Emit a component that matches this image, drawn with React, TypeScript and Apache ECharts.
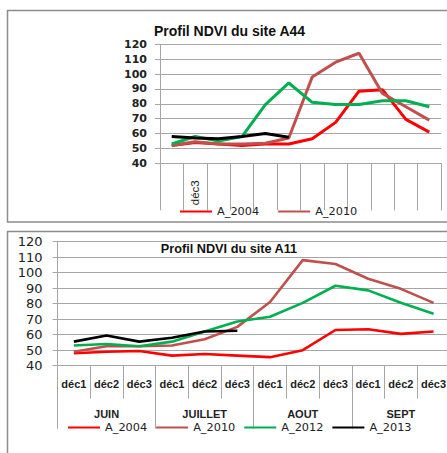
import React, { useEffect, useRef } from "react";
import * as echarts from "echarts";

const categories = ["déc1", "déc2", "déc3", "déc1", "déc2", "déc3", "déc1", "déc2", "déc3", "déc1", "déc2", "déc3"];
const a44Categories = ["déc2", "déc3", "déc1", "déc2", "déc3", "déc1", "déc2", "déc3", "déc1", "déc2", "déc3", "déc1"];
const months = ["JUIN", "JUILLET", "AOUT", "SEPT"];
const seriesNames = ["A_2004", "A_2010", "A_2012", "A_2013"];
const seriesColors = ["#FF0000", "#C0504D", "#00B050", "#000000"];

const a44_2004 = [52, 54, 53, 52, 53, 53, 56.5, 67.5, 88.5, 89.5, 69.5, 61];
const a44_2010 = [52, 54.5, 53, 53, 53.5, 57, 98, 108, 114, 87, 78, 69];
const a44_2012 = [53, 58, 55, 58, 79.5, 94, 81, 79.5, 79.5, 82, 82, 78];
const a44_2013 = [58, 57, 56.5, 58, 60, 57.5];

const a11_2004 = [48, 49, 49.5, 46.5, 47.5, 46.5, 45.5, 50, 63, 63.5, 60.5, 62];
const a11_2010 = [49, 52.5, 52.5, 53, 57, 65, 81, 108, 105.5, 96, 89.5, 80.5];
const a11_2012 = [53, 54, 52.5, 55.5, 62, 68.5, 71.5, 80.5, 91.5, 88.5, 80.5, 73.5];
const a11_2013 = [55.5, 59.5, 55.5, 58, 62, 62.5];

const yMin = 40;
const yMax = 120;
const yStep = 10;

const GRID = "#A6A6A6";
const BORDER = "#8C8C8C";

export default function App() {
  const ref = useRef<HTMLDivElement>(null);
  useEffect(() => {
    if (!ref.current) return;
    const chart = echarts.init(ref.current, undefined, { renderer: "svg" });
    const topData = [a44_2004, a44_2010, a44_2012, a44_2013];
    const botData = [a11_2004, a11_2010, a11_2012, a11_2013];

    const series: any[] = [];
    topData.forEach((d, i) => {
      series.push({
        type: "line",
        name: seriesNames[i],
        xAxisIndex: 0,
        yAxisIndex: 0,
        data: d,
        symbol: "none",
        color: seriesColors[i],
        lineStyle: { width: 3, color: seriesColors[i] },
        z: 3 + i,
      });
    });
    botData.forEach((d, i) => {
      series.push({
        type: "line",
        name: seriesNames[i],
        xAxisIndex: 1,
        yAxisIndex: 1,
        data: d,
        symbol: "none",
        color: seriesColors[i],
        lineStyle: { width: 2.6, color: seriesColors[i] },
        z: 3 + i,
      });
    });

    const yAxisBase = {
      type: "value",
      min: yMin,
      max: yMax,
      interval: yStep,
      axisLine: { show: true, lineStyle: { color: GRID, width: 1 } },
      axisTick: { show: true, length: 5, lineStyle: { color: GRID } },
      splitLine: { show: true, lineStyle: { color: GRID, width: 1 } },
    };

    chart.setOption({
      animation: false,
      backgroundColor: "#ffffff",
      grid: [
        { left: 160, top: 44.3, width: 281, height: 119, containLabel: false },
        { left: 57.5, top: 241.5, width: 392.4, height: 124.2, containLabel: false },
      ],
      xAxis: [
        {
          type: "category",
          gridIndex: 0,
          data: a44Categories,
          position: "bottom",
          boundaryGap: true,
          axisLine: { show: true, lineStyle: { color: GRID } },
          axisTick: { show: true, interval: 0, length: 47, lineStyle: { color: GRID } },
          splitLine: { show: false },
          axisLabel: {
            interval: 0,
            rotate: 90,
            margin: 17,
            color: "#222",
            fontFamily: "Liberation Sans",
            fontSize: 11.5,
            formatter: (v: string, idx: number) => (idx === 1 ? v : ""),
          },
        },
        {
          type: "category",
          gridIndex: 1,
          data: categories,
          position: "bottom",
          boundaryGap: true,
          axisLine: { show: true, lineStyle: { color: GRID } },
          axisTick: { show: true, interval: 0, length: 33, lineStyle: { color: GRID } },
          splitLine: { show: false },
          axisLabel: {
            interval: 0,
            margin: 13,
            color: "#222",
            fontFamily: "Liberation Sans",
            fontWeight: "bold",
            fontSize: 11,
          },
        },
        {
          type: "category",
          gridIndex: 1,
          data: months,
          position: "bottom",
          offset: 0,
          boundaryGap: true,
          axisLine: { show: false },
          axisTick: { show: true, interval: 0, length: 63, lineStyle: { color: GRID } },
          splitLine: { show: false },
          axisLabel: {
            interval: 0,
            margin: 42,
            color: "#222",
            fontFamily: "Liberation Sans",
            fontWeight: "bold",
            fontSize: 11,
            lineHeight: 12,
          },
        },
      ],
      yAxis: [
        {
          ...yAxisBase,
          gridIndex: 0,
          axisLabel: {
            margin: 13,
            color: "#222",
            fontFamily: "DejaVu Sans",
            fontWeight: "bold",
            fontSize: 11,
          },
        },
        {
          ...yAxisBase,
          gridIndex: 1,
          axisLabel: {
            margin: 15,
            color: "#222",
            fontFamily: "DejaVu Sans",
            fontSize: 13,
          },
        },
      ],
      legend: [
        {
          data: seriesNames.slice(0, 2),
          left: 180,
          top: 206,
          padding: 0,
          icon: "rect",
          itemWidth: 32,
          itemHeight: 2,
          itemGap: 19,
          selectedMode: false,
          textStyle: { fontFamily: "DejaVu Sans", fontSize: 11.3, color: "#222" },
        },
        {
          data: seriesNames,
          left: 68,
          top: 421.5,
          padding: 0,
          icon: "rect",
          itemWidth: 32,
          itemHeight: 2,
          itemGap: 9,
          selectedMode: false,
          textStyle: { fontFamily: "DejaVu Sans", fontSize: 11.3, color: "#222", lineHeight: 12 },
        },
      ],
      graphic: [
        {
          type: "rect",
          shape: { x: 7.5, y: 10.5, width: 480, height: 211.5 },
          style: { fill: "none", stroke: BORDER, lineWidth: 1.5 },
          z: 0,
          silent: true,
        },
        {
          type: "rect",
          shape: { x: 7.5, y: 231.5, width: 480, height: 240 },
          style: { fill: "none", stroke: BORDER, lineWidth: 1.5 },
          z: 0,
          silent: true,
        },
        {
          type: "text",
          x: 229.5,
          y: 31,
          style: {
            text: "Profil NDVI du site A44",
            textAlign: "center",
            textVerticalAlign: "middle",
            font: "bold 14px 'Liberation Sans'",
            fill: "#111",
          },
          z: 10,
        },
        {
          type: "text",
          x: 229,
          y: 248.7,
          style: {
            text: "Profil NDVI du site A11",
            textAlign: "center",
            textVerticalAlign: "middle",
            font: "bold 12.7px 'Liberation Sans'",
            fill: "#111",
          },
          z: 10,
        },
      ],
      series,
    });
    return () => chart.dispose();
  }, []);

  return (
    <div
      style={{
        position: "fixed",
        left: 0,
        top: 0,
        width: 447,
        height: 453,
        overflow: "hidden",
        background: "#fff",
      }}
    >
      <div ref={ref} style={{ width: 470, height: 453 }} />
    </div>
  );
}
